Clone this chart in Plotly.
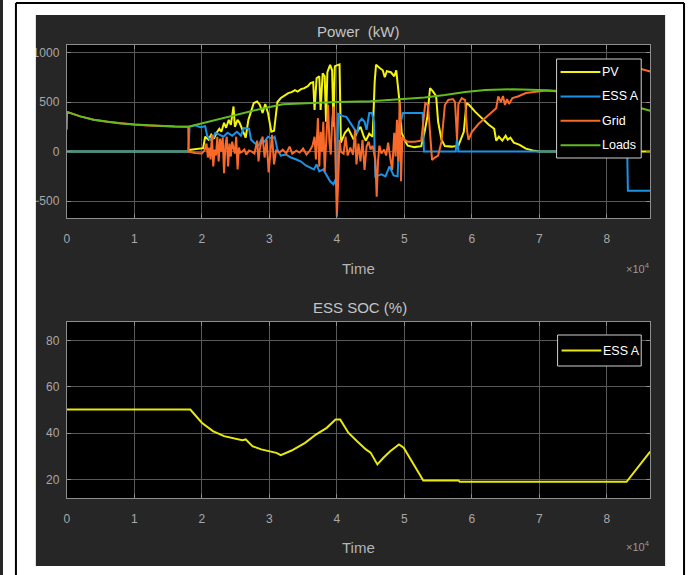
import plotly.graph_objects as go

# ---------------------------------------------------------------- data
# Time axis in seconds over one day (0 .. 86400 s)
pv_time = [0, 18000, 18100, 20200, 20500, 21000, 21400, 21800, 22200, 22600,
           22900, 23300, 23600, 24000, 24300, 24700, 24900, 25300, 25600, 25900,
           26200, 26500, 26900, 27300, 27700, 28200, 28600, 29000, 29400, 29800,
           30300, 30700, 31200, 31700, 32200, 32800, 33300, 33800, 34200, 34700,
           35200, 35700, 36100, 36500, 36700, 37000, 37400, 37600, 37900, 38200,
           38400, 38600, 39000, 39300, 39500, 39700, 40000, 40400, 40600, 41200,
           41700, 42200, 42500, 43000, 43500, 44000, 44300, 44800, 45300, 45600,
           45800, 46300, 46800, 47100, 47400, 48000, 48500, 48800, 49000, 49300,
           49600, 50000, 50500, 51500, 52500, 53000, 53400, 53800, 54200, 54700,
           55000, 55500, 56000, 57000, 58000, 58800, 59200, 59600, 60500, 61500,
           62500, 63300, 63600, 64000, 64500, 65000, 65300, 65700, 66200, 67000,
           68000, 69000, 70000, 86400]
pv_kw = [0, 0, 17, 34, 150, 120, 170, 130, 190, 230,
         200, 290, 240, 320, 270, 455, 250, 320, 290, 240,
         190, 140, 320, 400, 490, 505, 470, 390, 480, 390,
         200, 210, 500, 540, 560, 590, 600, 620, 605, 630,
         640, 660, 690, 700, 420, 740, 760, 420, 790, 760,
         300, 800, 875, 820, 250, 860, 870, 880, 90, 190,
         230, 170, 120, 200, 250, 150, 110, 180, 150, 700,
         875, 845, 820, 750, 810, 800, 760, 820, 680, 490,
         190, 120, 60, 45, 55, 200, 350, 640, 610, 560,
         300, 120, 55, 50, 60, 200, 490, 470, 400, 330,
         270, 230, 110, 150, 110, 160, 120, 140, 90, 70,
         30, 10, 0, 0]

ess_time = [0, 18000, 18200, 19000, 19800, 20500, 20800, 21200, 21600, 22000,
            22600, 23200, 23800, 24500, 25200, 25800, 26200, 27000, 27300, 27800,
            28400, 28800, 29300, 29800, 30400, 30800, 31200, 31700, 32500, 33200,
            34000, 34700, 35400, 36000, 36600, 37000, 37400, 38000, 38600, 39000,
            39500, 39800, 40000, 40200, 40800, 41400, 42000, 42700, 43000, 43300,
            43700, 44100, 44400, 44800, 45200, 45500, 45700, 46200, 46600, 47200,
            47800, 48400, 49000, 49300, 49800, 51000, 52700, 52900, 57600, 57800,
            58000, 83000, 83100, 86400]
ess_kw = [0, 0, 250, 265, 245, 255, 160, 118, 125, 190,
          170, 150, 190, 160, 200, 160, 236, 230, 120, 87,
          60, 118, 100, 150, 130, 150, 20, -40, -30, -60,
          -80, -100, -140, -160, -180, -130, -200, -180, -250, -300,
          -330, -280, -350, 380, 360, 350, 290, 220, 185, 300,
          330, 300, 220, 390, 390, 300, -250, -240, -230, -250,
          -150, -240, -250, 250, 390, 390, 390, 0, 0, 130,
          0, 0, -395, -395]

grid_time = [0, 50, 2000, 4000, 6000, 8000, 10000, 12000, 14000, 16000,
             18000, 18050, 19000, 20000, 20400, 20700, 20900, 21100, 21300, 21500,
             21700, 21900, 22100, 22300, 22500, 22700, 22900, 23100, 23300, 23500,
             23700, 23900, 24100, 24300, 24500, 24700, 24900, 25100, 25300, 25500,
             25700, 26000, 26300, 26600, 27000, 27400, 27800, 28200, 28400, 28600,
             29000, 29300, 29600, 29900, 30200, 30400, 30700, 31000, 31500, 32000,
             32500, 33000, 33400, 34000, 34500, 35000, 35500, 36000, 36400, 36700,
             36900, 37200, 37400, 37600, 37800, 38000, 38200, 38400, 38700, 38900,
             39100, 39300, 39500, 39700, 40000, 40200, 40400, 40600, 41000, 41300,
             41600, 42000, 42400, 42700, 42900, 43200, 43500, 43800, 44100, 44400,
             44700, 45000, 45300, 45700, 45900, 46100, 46300, 46600, 47000, 47300,
             47600, 47900, 48200, 48500, 48700, 48900, 49100, 49300, 49500, 49700,
             50000, 50500, 51500, 52500, 52800, 53100, 53500, 53800, 54100, 54500,
             55000, 55500, 56000, 56500, 57200, 57500, 57800, 58000, 58500, 59000,
             59300, 59500, 60000, 61000, 62000, 63000, 63600, 63900, 64300, 64600,
             64900, 65200, 65500, 66000, 66800, 68000, 69500, 71000, 72000, 75000,
             78000, 81000, 83000, 83100, 84500, 86400]
grid_kw = [220, 400, 355, 322, 300, 284, 272, 263, 256, 252,
           250, 0, -15, -20, 10, 80, -60, 40, -80, 170,
           -150, 20, -40, 150, -100, 130, 0, 140, -218, 60,
           150, -150, 80, -50, 100, 30, -20, 150, -180, 40,
           -10, 0, 20, -30, 10, 0, -20, 110, -100, 30,
           150, -60, 120, -210, 20, 170, -130, 10, -10, 20,
           -20, 50, -20, 10, -10, 30, -30, 10, 60, 150,
           -80, 337, -152, 200, 0, 300, -200, 50, 472, 100,
           -30, 300, 455, 200, -656, -300, 118, 0, -20, 150,
           -40, 40, -30, 220, -130, 80, -100, 118, -185, 50,
           100, 20, 60, -80, -455, -100, 60, -20, 20, -40,
           90, -60, -185, 190, -50, 320, -100, 505, -300, 150,
           118, 100, 100, 110, 300, 489, 470, 200, -84, -60,
           -40, 100, 470, 520, 530, 500, 120, 480, 540, 520,
           200, 118, 200, 280, 340, 400, 438, 556, 500, 560,
           470, 530, 480, 540, 556, 590, 606, 616, 612, 590,
           560, 510, 470, 870, 845, 808]

loads_time = [0, 2000, 4000, 6000, 8000, 10000, 12000, 14000, 16000, 18000,
              20000, 23000, 26000, 29000, 32000, 35000, 40000, 45000, 50000, 53000,
              56000, 59000, 62000, 66000, 70000, 73000, 76000, 79000, 82000, 84500,
              86400]
loads_kw = [400, 355, 322, 300, 284, 272, 263, 256, 252, 250,
            285, 335, 385, 435, 478, 487, 500, 508, 528, 545,
            570, 602, 622, 628, 620, 610, 590, 555, 495, 445,
            412]

soc_time = [0, 18300, 20000, 21650, 23300, 24900, 26000, 26500, 27500, 28800,
            30100, 31050, 31700, 33300, 35300, 36900, 38500, 39800, 40500, 41700,
            43000, 44300, 45000, 46000, 46900, 47900, 49200, 49900, 52800, 58000,
            58200, 82900, 86400]
soc_pct = [50.2, 50.2, 44.5, 40.9, 38.7, 37.6, 37.0, 37.3, 34.4, 33.0,
           32.2, 31.5, 30.5, 32.5, 35.8, 39.4, 42.3, 45.9, 45.9, 40.2,
           36.5, 33.0, 31.6, 26.5, 29.4, 32.2, 35.1, 33.7, 19.6, 19.6,
           19.0, 19.0, 32.0]

x_tick_vals = [0, 10000, 20000, 30000, 40000, 50000, 60000, 70000, 80000]
x_tick_text = ["0", "1", "2", "3", "4", "5", "6", "7", "8"]
power_ticks = [-500, 0, 500, 1000]
soc_ticks = [20, 40, 60, 80]

power_names = ["PV", "ESS A", "Grid", "Loads"]
power_colors = ["#F4F40A", "#1A92E6", "#F8692A", "#63BC1E"]
soc_name = "ESS A"
soc_color = "#E8E80C"

# ---------------------------------------------------------------- helpers
W, H = 691, 575
FONT = "Liberation Sans, Arial, Helvetica, sans-serif"


def px(x):
    return x / W


def py(y):
    return 1 - y / H


# ---------------------------------------------------------------- figure
fig = go.Figure()

power_series = [(pv_time, pv_kw), (ess_time, ess_kw),
                (grid_time, grid_kw), (loads_time, loads_kw)]
for (t, v), name, col in zip(power_series, power_names, power_colors):
    assert len(t) == len(v), name
    fig.add_trace(go.Scatter(x=t, y=v, name=name, mode="lines",
                             line=dict(color=col, width=2),
                             xaxis="x", yaxis="y", showlegend=False))

assert len(soc_time) == len(soc_pct)
fig.add_trace(go.Scatter(x=soc_time, y=soc_pct, name=soc_name, mode="lines",
                         line=dict(color=soc_color, width=2),
                         xaxis="x2", yaxis="y2", showlegend=False))

axis_common = dict(
    showgrid=True, gridcolor="#5a5a5a", gridwidth=1, zeroline=False,
    showline=True, linecolor="#8e8e8e", linewidth=1, mirror="ticks",
    ticks="inside", ticklen=4, tickcolor="#8e8e8e",
    tickfont=dict(family=FONT, size=12, color="#a8a8a8"),
)

x_dom = [px(64), px(650)]
fig.update_layout(
    width=W, height=H, autosize=False,
    margin=dict(l=0, r=0, t=0, b=0),
    paper_bgcolor="#262626", plot_bgcolor="#000000",
    xaxis=dict(domain=x_dom, anchor="y", range=[0, 86400],
               tickvals=x_tick_vals, ticktext=x_tick_text,
               ticklabelstandoff=10, **axis_common),
    yaxis=dict(domain=[py(218), py(45)], anchor="x", range=[-670, 1075],
               tickvals=power_ticks, ticklabelstandoff=4, **axis_common),
    xaxis2=dict(domain=x_dom, anchor="y2", range=[0, 86400],
                tickvals=x_tick_vals, ticktext=x_tick_text,
                ticklabelstandoff=10, **axis_common),
    yaxis2=dict(domain=[py(498), py(322)], anchor="x2", range=[12, 88],
                tickvals=soc_ticks, ticklabelstandoff=4, **axis_common),
)

shapes = []
# white page around the dark figure panel, with a thin black frame
white = dict(type="rect", xref="paper", yref="paper", fillcolor="#ffffff",
             line=dict(width=0), layer="above")
shapes.append(dict(white, x0=px(0), x1=px(33), y0=py(H), y1=py(0)))
shapes.append(dict(white, x0=px(665), x1=px(W), y0=py(H), y1=py(0)))
shapes.append(dict(white, x0=px(0), x1=px(W), y0=py(15), y1=py(0)))
shapes.append(dict(white, x0=px(0), x1=px(W), y0=py(H), y1=py(566)))
frame = dict(type="line", xref="paper", yref="paper",
             line=dict(color="#000000", width=2), layer="above")
shapes.append(dict(frame, x0=px(13), x1=px(13), y0=py(3), y1=py(H + 5)))
shapes.append(dict(frame, x0=px(684), x1=px(684), y0=py(3), y1=py(H + 5)))
shapes.append(dict(frame, x0=px(13), x1=px(684), y0=py(3), y1=py(3)))

annotations = []


def legend_box(x0, x1, y0, y1, entries):
    shapes.append(dict(type="rect", xref="paper", yref="paper",
                       x0=px(x0), x1=px(x1), y0=py(y1), y1=py(y0),
                       fillcolor="#000000", line=dict(color="#cfcfcf", width=1),
                       layer="above"))
    for (ly, name, col) in entries:
        shapes.append(dict(type="line", xref="paper", yref="paper",
                           x0=px(x0 + 4), x1=px(x0 + 44), y0=py(ly), y1=py(ly),
                           line=dict(color=col, width=2), layer="above"))
        annotations.append(dict(xref="paper", yref="paper", x=px(x0 + 44),
                                y=py(ly), text=name, showarrow=False,
                                xanchor="left", yanchor="middle",
                                font=dict(family=FONT, size=12.5, color="#ffffff")))


legend_box(556, 641, 59, 158,
           [(72 + 24.4 * i, n, c) for i, (n, c) in
            enumerate(zip(power_names, power_colors))])
legend_box(557, 641, 335, 366, [(350.5, soc_name, soc_color)])

title_font = dict(family=FONT, size=15, color="#c4c4c4")
label_font = dict(family=FONT, size=15, color="#b4b4b4")
exp_font = dict(family=FONT, size=11, color="#9a9a9a")
for text, x, y, f in [("Power\u00a0 (kW)", 357, 31, title_font),
                      ("ESS SOC (%)", 359, 308, title_font),
                      ("Time", 357, 268, label_font),
                      ("Time", 357, 547, label_font)]:
    annotations.append(dict(xref="paper", yref="paper", x=px(x), y=py(y),
                            text=text, showarrow=False, xanchor="center",
                            yanchor="middle", font=f))
for y in (268, 546):
    annotations.append(dict(xref="paper", yref="paper", x=px(652), y=py(y),
                            text="\u00d710<sup>4</sup>", showarrow=False,
                            xanchor="right", yanchor="middle", font=exp_font))

fig.update_layout(shapes=shapes, annotations=annotations)

fig.write_html("out.html")
